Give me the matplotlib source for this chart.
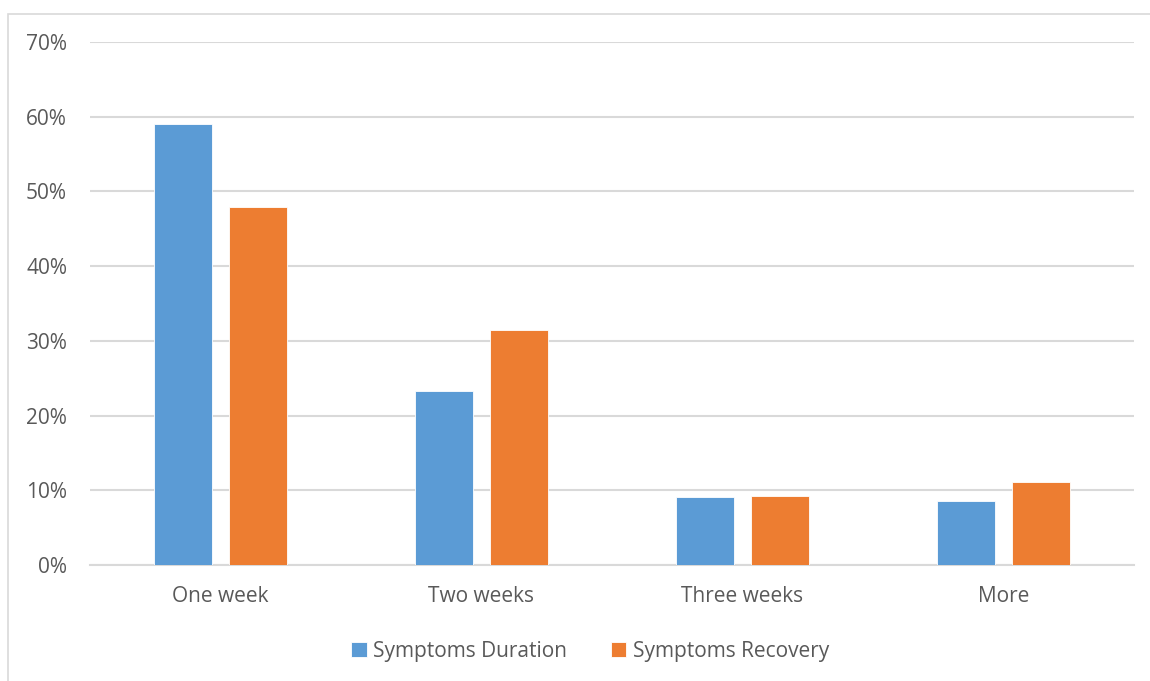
import matplotlib
matplotlib.use("Agg")
import matplotlib.pyplot as plt
from matplotlib.patches import Rectangle
import numpy as np

categories = ["One week", "Two weeks", "Three weeks", "More"]
duration = [0.59, 0.233, 0.091, 0.086]
recovery = [0.479, 0.315, 0.092, 0.111]
series_names = ["Symptoms Duration", "Symptoms Recovery"]
y_ticks = [0, 0.1, 0.2, 0.3, 0.4, 0.5, 0.6, 0.7]

blue = "#5B9BD5"
orange = "#ED7D31"
text_color = "#595959"
grid_color = "#D9D9D9"

plt.rcParams["font.family"] = ["Open Sans", "DejaVu Sans"]

fig = plt.figure(figsize=(11.5, 6.81), dpi=100)
# chart frame
fig.patches.append(Rectangle((8 / 1150, -0.01), 1.0, 1 - 13.5 / 681 + 0.01,
                             transform=fig.transFigure, fill=False,
                             edgecolor=grid_color, linewidth=1.2))

ax = fig.add_axes([90 / 1150, 1 - 565 / 681, (1134 - 90) / 1150, (565 - 42) / 681])
x = np.arange(len(categories))
w = 0.222
off = 0.144
ax.bar(x - off, duration, w, color=blue, label=series_names[0], zorder=3,
       edgecolor="white", linewidth=0.6)
ax.bar(x + off, recovery, w, color=orange, label=series_names[1], zorder=3,
       edgecolor="white", linewidth=0.6)

ax.set_xlim(-0.5, 3.5)
ax.set_ylim(0, 0.7)
ax.set_yticks(y_ticks)
ax.set_yticklabels([f"{int(round(t * 100))}%" for t in y_ticks])
ax.set_xticks(x)
ax.set_xticklabels(categories)
ax.yaxis.grid(True, color=grid_color, linewidth=1.5, zorder=0)
ax.set_axisbelow(True)
for s in ["top", "right", "left"]:
    ax.spines[s].set_visible(False)
ax.spines["bottom"].set_color(grid_color)
ax.spines["bottom"].set_linewidth(1.5)
ax.tick_params(axis="both", length=0, labelsize=15, colors=text_color)
ax.tick_params(axis="y", pad=16.5)
ax.tick_params(axis="x", pad=15)

leg = fig.legend(loc="center", bbox_to_anchor=(590 / 1150, 1 - 651 / 681), ncol=2,
                 frameon=False, fontsize=15, handlelength=0.75, handleheight=0.75,
                 handletextpad=0.3, columnspacing=2.1, labelcolor=text_color)

fig.savefig("out.png", dpi=100, facecolor="white")
